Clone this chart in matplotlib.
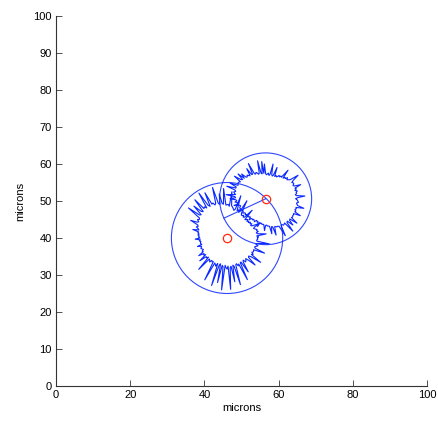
import numpy as np
import matplotlib
matplotlib.use("Agg")
import matplotlib.pyplot as plt
from matplotlib.patches import Circle

plt.rcParams['font.family'] = ['Liberation Sans', 'DejaVu Sans']

# cell centres (microns) and bounding circle radii
centers_x = [46.1, 56.5]
centers_y = [40.0, 50.6]
circle_r = [15.0, 12.4]
spoke_deg = 205  # start of second circle outline

# outline radius every 2 degrees
r_cell1 = [8.2, 8.5, 8.0, 10.6, 8.3, 8.0, 8.6, 8.2, 8.4, 7.9,
           7.6, 8.0, 9.8, 7.5, 7.2, 7.7, 7.3, 7.6, 7.1, 7.4,
           7.0, 7.5, 7.2, 6.9, 10.1, 7.4, 7.1, 7.6, 7.3, 7.3,
           7.8, 11.4, 8.0, 7.6, 8.2, 7.9, 12.0, 8.2, 7.7, 8.1,
           8.5, 8.8, 12.6, 8.6, 9.1, 9.0, 8.9, 13.4, 9.2, 9.4,
           12.1, 9.3, 9.6, 14.2, 9.9, 9.5, 10.2, 10.0, 13.6, 9.7,
           10.2, 14.3, 9.8, 10.4, 10.1, 13.5, 9.6, 10.0, 12.4, 9.4,
           9.7, 13.2, 9.2, 9.0, 9.4, 8.8, 9.1, 10.9, 8.6, 8.4,
           8.8, 8.2, 7.9, 9.5, 7.8, 8.0, 7.6, 7.9, 7.5, 7.7,
           7.3, 8.6, 7.2, 7.5, 7.1, 7.3, 7.3, 7.0, 8.3, 7.2,
           7.4, 7.6, 7.3, 7.1, 7.6, 7.4, 9.0, 7.5, 7.8, 7.3,
           9.6, 7.5, 7.7, 7.2, 11.4, 7.4, 7.6, 8.0, 7.3, 7.6,
           7.4, 12.8, 7.5, 7.8, 8.2, 7.3, 13.5, 7.6, 7.2, 12.3,
           7.5, 7.8, 14.1, 7.4, 8.0, 8.4, 7.6, 13.9, 8.1, 7.7,
           12.0, 7.5, 7.9, 13.1, 7.6, 7.4, 8.1, 7.7, 12.5, 7.6,
           7.5, 10.8, 7.8, 7.4, 8.2, 7.9, 7.5, 8.4, 10.5, 7.8,
           7.6, 8.2, 11.2, 7.9, 8.3, 7.7, 8.0, 8.0, 7.8, 10.9,
           8.1, 7.8, 8.2, 8.6, 7.9, 8.4, 11.5, 8.1, 8.0, 8.3]

r_cell2 = [8.2, 8.6, 10.6, 8.3, 8.1, 8.5, 8.4, 8.8, 8.2, 8.7,
           8.4, 10.2, 8.5, 8.2, 8.6, 8.6, 8.3, 9.1, 10.8, 8.4,
           8.0, 7.7, 8.2, 7.6, 7.8, 7.3, 9.8, 7.2, 7.4, 7.0,
           7.3, 6.8, 6.6, 6.9, 6.5, 9.0, 6.7, 6.4, 6.8, 9.6,
           6.6, 6.4, 7.0, 6.7, 6.5, 6.8, 9.4, 6.9, 10.1, 6.8,
           7.0, 10.5, 7.1, 6.9, 7.3, 7.6, 7.2, 7.4, 10.6, 7.5,
           7.6, 9.6, 7.5, 7.8, 8.1, 7.7, 7.9, 9.3, 8.0, 10.0,
           8.1, 8.4, 10.4, 8.2, 8.5, 8.6, 8.4, 8.3, 10.5, 8.6,
           8.5, 11.0, 8.6, 8.3, 8.8, 8.5, 8.2, 10.7, 8.3, 8.1,
           9.6, 8.0, 7.8, 8.3, 7.6, 7.4, 8.7, 7.2, 7.0, 7.3,
           7.4, 7.2, 7.9, 7.1, 6.9, 7.0, 7.3, 6.8, 6.7, 7.0,
           6.6, 6.8, 6.9, 6.5, 6.7, 6.4, 7.2, 6.6, 6.5, 6.7,
           6.4, 6.6, 6.9, 6.5, 6.3, 6.7, 6.5, 7.8, 6.6, 6.8,
           6.7, 7.0, 6.9, 7.0, 8.6, 7.2, 7.1, 7.4, 7.4, 7.5,
           9.6, 7.7, 7.8, 10.2, 7.9, 8.0, 8.2, 8.1, 8.3, 11.3,
           8.4, 8.2, 8.6, 8.5, 8.3, 11.4, 8.6, 8.4, 10.2, 8.7,
           8.5, 10.7, 8.6, 8.8, 8.6, 8.7, 8.5, 10.4, 8.6, 8.8,
           8.4, 8.7, 8.5, 10.6, 8.8, 8.6, 8.4, 8.9, 8.7, 8.5]

ticks = [0, 10, 20, 30, 40, 50, 60, 70, 80, 90, 100]
xticks = [0, 20, 40, 60, 80, 100]

blue = '#0a28ff'

fig = plt.figure(figsize=(4.39, 4.26), dpi=100)
ax = fig.add_axes([0.1276, 0.0939, 0.8451, 0.8685])

for cx, cy, cr, radii in zip(centers_x, centers_y, circle_r, [r_cell1, r_cell2]):
    ang = np.deg2rad(np.arange(0, 360, 360 / len(radii)))
    rr = np.array(radii + radii[:1])
    aa = np.append(ang, ang[0])
    ax.plot(cx + rr * np.cos(aa), cy + rr * np.sin(aa), color=blue, lw=0.8)
    ax.add_patch(Circle((cx, cy), cr, fill=False, ec=blue, lw=0.8, alpha=0.85))

# radial line of the second circle
a = np.deg2rad(spoke_deg)
ax.plot([centers_x[1], centers_x[1] + circle_r[1] * np.cos(a)],
        [centers_y[1], centers_y[1] + circle_r[1] * np.sin(a)],
        color=blue, lw=0.8, alpha=0.85)

ax.plot(centers_x, centers_y, 'o', mfc='none', mec='#ff2a10', ms=6, mew=0.9)

ax.set_xlim(0, 100)
ax.set_ylim(0, 100)
ax.set_xticks(xticks)
ax.set_yticks(ticks)
ax.tick_params(direction='in', length=4, width=0.6, labelsize=8, pad=3, color='0.2')
for s in ['top', 'right']:
    ax.spines[s].set_visible(False)
for s in ['left', 'bottom']:
    ax.spines[s].set_color('0.2')
    ax.spines[s].set_linewidth(0.8)
ax.set_xlabel('microns', fontsize=8, labelpad=2)
ax.set_ylabel('microns', fontsize=8, labelpad=6)

fig.savefig('out.png', dpi=100)
